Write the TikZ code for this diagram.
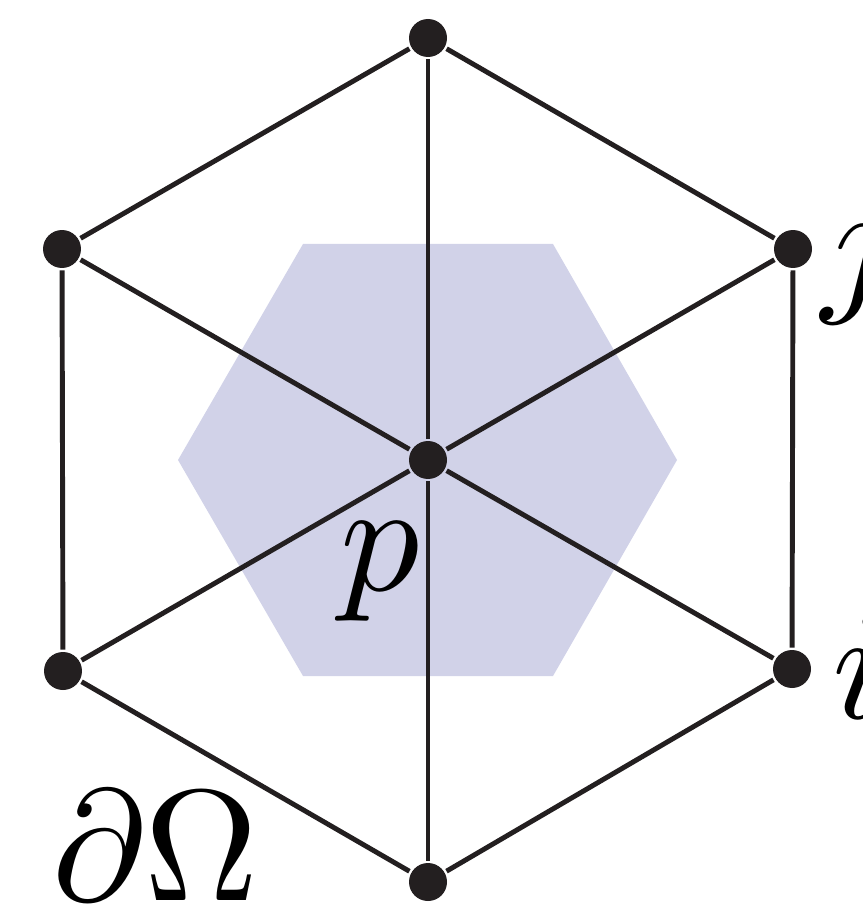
\documentclass[tikz,border=0pt]{standalone}
\usetikzlibrary{positioning}
\definecolor{ink}{RGB}{35,31,32}
\definecolor{cellfill}{RGB}{209,210,232}

\begin{document}
\begin{tikzpicture}[x=0.02cm,y=-0.02cm, line width=2.8pt,
    vertex/.style={circle, fill=ink, inner sep=0pt, minimum size=0.76cm},
    lbl/.style={scale=9, inner sep=0pt, anchor=base west}]
    \useasboundingbox (0,0) rectangle (862,905);
    % dual cell around p
    \fill[cellfill] (178,460) -- (303,244) -- (553,244) -- (677,460) -- (553,676) -- (303,676) -- cycle;
    \node[vertex] (p) at (428,460) {};
    \node[vertex] (top) at (428,38) {};
    \node[vertex] (bot) at (428,882) {};
    \node[vertex] (ul) at (62,249) {};
    \node[vertex] (vj) at (793,249) {};
    \node[vertex] (ll) at (63,671) {};
    \node[vertex] (vi) at (792,669) {};
    \draw[ink] (top) -- (vj) -- (vi) -- (bot) -- (ll) -- (ul) -- (top);
    \draw[ink] (p) -- (top);
    \draw[ink] (p) -- (bot);
    \draw[ink] (p) -- (ul);
    \draw[ink] (p) -- (vj);
    \draw[ink] (p) -- (ll);
    \draw[ink] (p) -- (vi);
    \node[lbl] (lp) at (318,590) {$p$};
    \node[lbl] (lj) at (799,294) {$j$};
    \node[lbl] (li) at (810,718) {$i$};
    \node[lbl] (lomega) at (30,900) {$\partial\Omega$};
\end{tikzpicture}
\end{document}
